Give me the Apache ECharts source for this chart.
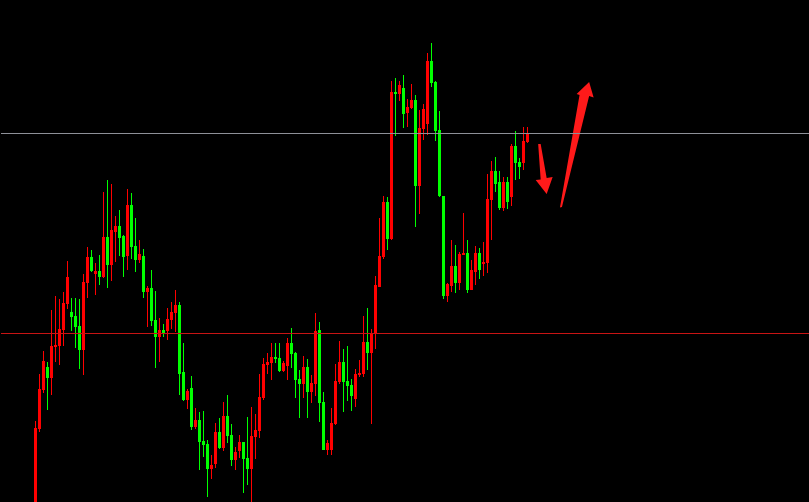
<!DOCTYPE html>
<html>
<head>
<meta charset="utf-8">
<script src="https://cdn.jsdelivr.net/npm/echarts@6/dist/echarts.min.js"></script>
<style>html,body{margin:0;padding:0;background:#000;}#c{width:809px;height:502px;}</style>
</head>
<body>
<div id="c"></div>
<script>
var opens  = [-13,73,112,135,124,155,156,172,198,190,186,176,152,219,245,228,231,225,265,237,270,276,266,246,297,256,242,246,210,214,182,165,172,171,182,189,197,130,102,114,75,82,61,58,33,38,70,54,86,67,42,51,60,44,33,65,71,104,137,139,145,144,131,136,159,149,123,118,135,110,118,172,100,52,52,78,120,140,121,117,103,127,128,160,149,169,215,245,300,263,410,408,414,389,394,402,316,373,378,441,420,372,306,206,216,236,219,247,249,212,230,249,238,239,302,331,320,294,320,305,356,340,339,360];
var closes = [74,113,141,124,156,157,173,199,225,185,175,152,220,245,231,231,225,265,237,272,276,264,245,297,255,242,248,210,214,181,165,172,168,183,190,197,128,102,111,75,82,60,57,33,37,70,54,86,66,42,50,60,43,33,66,72,105,138,140,145,143,131,139,159,148,122,118,135,110,119,171,99,52,59,79,121,140,120,116,106,128,129,160,149,169,217,246,300,263,410,408,417,388,395,402,316,374,393,441,419,371,306,206,218,236,219,248,249,212,232,249,232,240,303,331,318,294,320,300,356,339,335,361,369];
var lows   = [-23,70,109,92,107,140,137,156,193,171,154,133,127,204,230,207,217,224,214,221,240,246,225,232,243,230,239,204,175,176,134,140,165,162,173,170,107,101,93,72,73,32,45,5,23,34,53,51,59,36,32,44,9,17,-3,43,64,102,128,122,139,130,130,122,134,104,84,104,84,99,106,80,52,47,47,77,118,90,101,91,95,125,125,132,78,153,215,243,252,262,366,401,374,375,393,275,288,362,367,415,361,305,203,200,210,209,212,247,209,212,217,223,226,229,262,310,292,291,293,296,322,323,332,359];
var highs  = [81,128,151,140,192,206,203,210,241,204,204,203,228,255,252,239,247,310,322,318,286,292,267,313,309,284,262,253,216,232,211,184,178,194,200,212,200,159,113,126,94,90,91,62,47,79,84,100,107,78,55,67,60,85,95,88,128,144,149,159,159,159,141,164,174,150,132,146,143,127,189,180,110,62,94,138,161,153,156,123,133,142,186,194,173,226,284,306,305,421,424,421,427,403,418,407,392,398,449,459,421,391,306,219,262,257,250,289,262,242,256,254,260,328,341,345,331,325,325,358,371,344,375,375];
var levelGray = 368.5;
var levelRed = 168.5;
// arrow outlines in (bar index, price) units
var arrowDown = [[133.75,358],[134.375,358],[135.875,324],[137.375,325],[135.875,308],[133.125,322],[134.375,322.5]];
var arrowUp = [[139.2,294.5],[139.7,295],[146.5,406],[147.625,404.5],[146.5,420],[143.375,408],[144.1,407]];
var arrows = [arrowDown, arrowUp];

var lead = 8;      // empty bars before the first candle
var slots = 202;
var cats = [];
for (var i = 0; i < slots; i++) cats.push(String(i));
var kdata = [];
for (var j = 0; j < opens.length; j++) {
  kdata.push([j + lead, opens[j], closes[j], lows[j], highs[j]]);
}
var UP = '#ff0000', DOWN = '#00ff00';

function levelLine(v, color) {
  return {
    type: 'line', xAxisIndex: 1, clip: false, silent: true,
    showSymbol: false, symbol: 'none', animation: false,
    data: [[-1, v], [slots + 1, v]],
    lineStyle: {color: color, width: 1}
  };
}

var chart = echarts.init(document.getElementById('c'), null, {renderer: 'canvas'});
chart.setOption({
  backgroundColor: '#000000',
  animation: false,
  grid: {left: 1.5, top: 0, width: 808, height: 502},
  xAxis: [
    {type: 'category', data: cats, show: false, boundaryGap: true},
    {type: 'value', min: -0.5, max: slots - 0.5, show: false}
  ],
  yAxis: {type: 'value', min: 0, max: 502, show: false, splitLine: {show: false}},
  series: [
    levelLine(levelGray, '#8e9098'),
    levelLine(levelRed, '#c81414'),
    {
      type: 'custom',
      data: kdata,
      encode: {x: 0, y: [1, 2, 3, 4]},
      clip: true,
      renderItem: function (params, api) {
        var idx = api.value(0);
        var o = api.value(1), c = api.value(2), lo = api.value(3), hi = api.value(4);
        var pO = api.coord([idx, o]), pC = api.coord([idx, c]);
        var pL = api.coord([idx, lo]), pH = api.coord([idx, hi]);
        var cx = Math.floor(pO[0]);
        var col = c >= o ? UP : DOWN;
        var bTop = Math.round(Math.min(pO[1], pC[1]));
        var bBot = Math.round(Math.max(pO[1], pC[1]));
        var wTop = Math.round(pH[1]), wBot = Math.round(pL[1]);
        return {
          type: 'group',
          children: [
            {type: 'rect', shape: {x: cx, y: wTop, width: 1, height: Math.max(1, wBot - wTop)}, style: {fill: col}},
            {type: 'rect', shape: {x: cx - 1, y: bTop, width: 3, height: Math.max(1, bBot - bTop)}, style: {fill: col}}
          ]
        };
      }
    },
    {
      type: 'custom',
      xAxisIndex: 1,
      data: arrows.map(function (a) { return a[0]; }),
      renderItem: function (params, api) {
        var pts = arrows[params.dataIndex].map(function (p) { return api.coord(p); });
        return {type: 'polygon', shape: {points: pts}, style: {fill: '#ff1a1a', stroke: null}};
      }
    }
  ]
});
</script>
</body>
</html>
